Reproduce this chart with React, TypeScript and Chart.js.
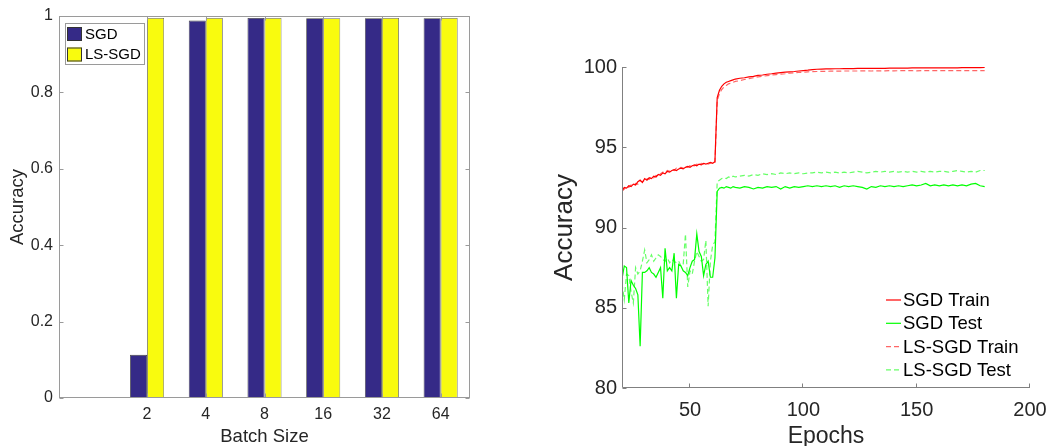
import React, { useEffect, useRef } from "react";
import { Chart, registerables } from "chart.js";
Chart.register(...registerables);

const FONT = "'Liberation Sans', Arial, Helvetica, sans-serif";
const TEXT = "#262626";

// ---- Left chart: final accuracy vs batch size ----
const batchLabels = ["", "2", "4", "8", "16", "32", "64"];
const sgdAcc = [null, 0.113, 0.988, 0.995, 0.994, 0.994, 0.994];
const lsSgdAcc = [null, 0.995, 0.995, 0.995, 0.994, 0.995, 0.995];
const barYTicks = [0, 0.2, 0.4, 0.6, 0.8, 1];

// ---- Right chart: accuracy vs epochs ----
const epochs = [
  20, 21, 22, 23, 24, 25, 26, 27, 28, 29,
  30, 31, 32, 33, 34, 35, 36, 37, 38, 39,
  40, 41, 42, 43, 44, 45, 46, 47, 48, 49,
  50, 51, 52, 53, 54, 55, 56, 57, 58, 59,
  60, 61, 62, 63, 64, 65, 66, 67, 68, 69,
  70, 72, 74, 76, 78, 80, 82, 84, 86, 88,
  90, 92, 94, 96, 98, 100, 102, 104, 106, 108,
  110, 112, 114, 116, 118, 120, 122, 124, 126, 128,
  130, 132, 134, 136, 138, 140, 142, 144, 146, 148,
  150, 152, 154, 156, 158, 160, 162, 164, 166, 168,
  170, 172, 174, 176, 178, 180,
];
const sgdTrain = [
  92.30, 92.50, 92.45, 92.60, 92.55, 92.70, 92.65, 92.85, 92.95, 92.80,
  93.05, 92.95, 93.10, 93.05, 93.20, 93.15, 93.30, 93.25, 93.40, 93.35,
  93.50, 93.45, 93.55, 93.60, 93.55, 93.65, 93.70, 93.65, 93.75, 93.80,
  93.75, 93.85, 93.90, 93.85, 93.95, 93.90, 94.00, 93.95, 94.00, 94.05,
  94.00, 94.10, 98.10, 98.55, 98.80, 98.95, 99.05, 99.10, 99.15, 99.20,
  99.25, 99.30, 99.33, 99.38, 99.42, 99.48, 99.50, 99.55, 99.58, 99.62,
  99.65, 99.68, 99.70, 99.72, 99.75, 99.78, 99.80, 99.84, 99.86, 99.87,
  99.88, 99.88, 99.89, 99.89, 99.90, 99.90, 99.90, 99.91, 99.91, 99.91,
  99.92, 99.92, 99.92, 99.92, 99.93, 99.93, 99.93, 99.93, 99.93, 99.94,
  99.94, 99.94, 99.94, 99.94, 99.95, 99.95, 99.95, 99.95, 99.95, 99.95,
  99.96, 99.96, 99.96, 99.96, 99.96, 99.97,
];
const sgdTest = [
  86.8, 87.6, 87.5, 85.3, 86.7, 86.4, 86.2, 85.8, 82.6, 87.2,
  87.2, 87.3, 87.5, 87.2, 87.1, 86.9, 87.2, 87.5, 85.6, 88.7,
  87.3, 87.5, 87.3, 88.4, 85.6, 87.7, 87.6, 87.3, 87.2, 87.0,
  87.5, 87.9, 88.0, 89.6, 88.5, 88.2, 87.0, 87.7, 87.9, 86.9,
  86.9, 88.1, 92.25, 92.45, 92.50, 92.45, 92.55, 92.50, 92.45, 92.55,
  92.50, 92.45, 92.55, 92.50, 92.40, 92.50, 92.45, 92.55, 92.50, 92.55,
  92.40, 92.55, 92.45, 92.55, 92.50, 92.55, 92.60, 92.55, 92.60, 92.55,
  92.60, 92.55, 92.60, 92.50, 92.60, 92.55, 92.60, 92.55, 92.50, 92.40,
  92.55, 92.50, 92.60, 92.55, 92.60, 92.55, 92.60, 92.55, 92.60, 92.65,
  92.60, 92.65, 92.75, 92.60, 92.65, 92.60, 92.65, 92.60, 92.65, 92.60,
  92.65, 92.60, 92.70, 92.75, 92.60, 92.55,
];
const lsTrain = [
  92.25, 92.40, 92.55, 92.50, 92.65, 92.60, 92.75, 92.70, 92.90, 92.85,
  92.95, 93.05, 93.00, 93.15, 93.10, 93.25, 93.20, 93.35, 93.45, 93.40,
  93.55, 93.50, 93.60, 93.55, 93.70, 93.65, 93.75, 93.70, 93.80, 93.75,
  93.85, 93.80, 93.85, 93.95, 93.90, 94.00, 93.95, 94.05, 93.95, 94.00,
  94.05, 94.05, 97.90, 98.35, 98.60, 98.75, 98.85, 98.95, 99.00, 99.05,
  99.10, 99.15, 99.22, 99.28, 99.33, 99.38, 99.42, 99.46, 99.50, 99.53,
  99.56, 99.58, 99.61, 99.64, 99.66, 99.68, 99.70, 99.71, 99.72, 99.73,
  99.73, 99.74, 99.74, 99.74, 99.75, 99.75, 99.75, 99.75, 99.76, 99.76,
  99.75, 99.76, 99.76, 99.76, 99.77, 99.76, 99.77, 99.77, 99.77, 99.77,
  99.76, 99.77, 99.77, 99.78, 99.77, 99.78, 99.78, 99.78, 99.77, 99.78,
  99.78, 99.78, 99.78, 99.78, 99.78, 99.78,
];
const lsTest = [
  86.5, 85.5, 87.1, 87.0, 86.0, 85.3, 87.5, 87.1, 87.3, 87.9,
  88.6, 87.8, 88.0, 88.3, 87.9, 88.1, 88.3, 88.2, 88.0, 87.9,
  88.1, 87.8, 88.0, 87.9, 87.8, 87.9, 87.6, 87.7, 89.6, 86.3,
  87.3, 87.1, 87.9, 88.5, 88.2, 87.9, 88.0, 89.2, 85.1, 87.9,
  88.9, 89.1, 92.85, 92.95, 93.05, 93.10, 93.05, 93.15, 93.10, 93.20,
  93.15, 93.20, 93.25, 93.20, 93.30, 93.25, 93.35, 93.30, 93.35, 93.30,
  93.40, 93.35, 93.40, 93.35, 93.40, 93.35, 93.40, 93.40, 93.45, 93.40,
  93.45, 93.40, 93.45, 93.40, 93.45, 93.40, 93.45, 93.50, 93.45, 93.40,
  93.45, 93.50, 93.45, 93.50, 93.45, 93.50, 93.45, 93.50, 93.45, 93.50,
  93.45, 93.50, 93.45, 93.50, 93.45, 93.50, 93.50, 93.45, 93.50, 93.55,
  93.50, 93.45, 93.50, 93.45, 93.55, 93.55,
];
const epochTicks = [50, 100, 150, 200];
const accTicks = [80, 85, 90, 95, 100];

const toPoints = (ys: number[]) => epochs.map((e, i) => ({ x: e, y: ys[i] }));

const noAutoPad = (s: any) => {
  s.paddingLeft = 0;
  s.paddingRight = 0;
  s.paddingTop = 0;
  s.paddingBottom = 0;
};

const leftFrame = {
  id: "leftFrame",
  afterDraw(chart: any) {
    const { ctx, chartArea: a, scales } = chart;
    const L = Math.round(a.left) + 0.5;
    const R = Math.round(a.right) - 0.5;
    const T = Math.round(a.top) + 0.5;
    const B = Math.round(a.bottom) - 0.5;
    ctx.save();
    ctx.strokeStyle = "#9a9a9a";
    ctx.lineWidth = 1;
    ctx.strokeRect(L, T, R - L, B - T);
    ctx.beginPath();
    barYTicks.forEach((v) => {
      const py = Math.round(scales.y.getPixelForValue(v)) + 0.5;
      ctx.moveTo(L, py); ctx.lineTo(L + 4, py);
      ctx.moveTo(R, py); ctx.lineTo(R - 4, py);
    });
    for (let i = 1; i < batchLabels.length; i++) {
      const px = Math.round(scales.x.getPixelForValue(i)) + 0.5;
      ctx.moveTo(px, B); ctx.lineTo(px, B - 4);
      ctx.moveTo(px, T); ctx.lineTo(px, T + 4);
    }
    ctx.stroke();
    // legend box inside the plot
    const lx = a.left + 6, ly = a.top + 7, lw = 79, lh = 41;
    ctx.fillStyle = "#ffffff";
    ctx.fillRect(lx, ly, lw, lh);
    ctx.strokeStyle = "#9a9a9a";
    ctx.strokeRect(Math.round(lx) + 0.5, Math.round(ly) + 0.5, lw, lh);
    ctx.font = `15px ${FONT}`;
    ctx.textBaseline = "middle";
    ctx.textAlign = "left";
    chart.data.datasets.forEach((ds: any, i: number) => {
      const cy = ly + 11 + i * 20.5;
      ctx.fillStyle = ds.backgroundColor;
      ctx.fillRect(lx + 2, cy - 7, 15, 14);
      ctx.strokeStyle = "#333";
      ctx.strokeRect(lx + 2.5, cy - 6.5, 14, 13);
      ctx.fillStyle = "#000";
      ctx.fillText(ds.label, lx + 20, cy + 0.5);
    });
    ctx.restore();
  },
};

const rightFrame = {
  id: "rightFrame",
  afterDraw(chart: any) {
    const { ctx, chartArea: a, scales } = chart;
    const L = Math.round(a.left) + 0.5;
    const B = Math.round(a.bottom) - 0.5;
    ctx.save();
    ctx.strokeStyle = "#808080";
    ctx.lineWidth = 1;
    ctx.beginPath();
    ctx.moveTo(L, Math.round(a.top));
    ctx.lineTo(L, B);
    ctx.lineTo(Math.round(a.right), B);
    accTicks.forEach((v) => {
      const py = Math.round(scales.y.getPixelForValue(v)) + 0.5;
      ctx.moveTo(L, py); ctx.lineTo(L + 4, py);
    });
    epochTicks.forEach((v) => {
      const px = Math.round(scales.x.getPixelForValue(v)) - 0.5;
      ctx.moveTo(px, B); ctx.lineTo(px, B - 4);
    });
    ctx.stroke();
    // legend (no box)
    const tx = a.right - 127;
    ctx.font = `18.5px ${FONT}`;
    ctx.textBaseline = "middle";
    ctx.textAlign = "left";
    chart.data.datasets.forEach((ds: any, i: number) => {
      const cy = a.bottom - 88 + i * 23.3;
      ctx.beginPath();
      ctx.strokeStyle = ds.borderColor;
      ctx.lineWidth = ds.borderWidth;
      ctx.setLineDash(ds.borderDash || []);
      ctx.moveTo(tx - 17, cy);
      ctx.lineTo(tx - 2, cy);
      ctx.stroke();
      ctx.setLineDash([]);
      ctx.fillStyle = "#000";
      ctx.fillText(ds.label, tx, cy + 1);
    });
    ctx.restore();
  },
};

function LeftChart() {
  const ref = useRef<HTMLCanvasElement>(null);
  useEffect(() => {
    const chart = new Chart(ref.current as HTMLCanvasElement, {
      type: "bar",
      data: {
        labels: batchLabels,
        datasets: [
          {
            label: "SGD",
            data: sgdAcc as any,
            backgroundColor: "#352a87",
            borderColor: "rgba(0,0,0,0.75)",
            borderWidth: 0.8,
            categoryPercentage: 0.58,
            barPercentage: 1,
          },
          {
            label: "LS-SGD",
            data: lsSgdAcc as any,
            backgroundColor: "#f9fb0e",
            borderColor: "rgba(0,0,0,0.6)",
            borderWidth: 0.8,
            categoryPercentage: 0.58,
            barPercentage: 1,
          },
        ],
      },
      options: {
        animation: false,
        responsive: false,
        events: [],
        layout: { padding: { left: 0, top: 16, right: 40, bottom: 0 } },
        plugins: { legend: { display: false }, tooltip: { enabled: false } },
        scales: {
          x: {
            grid: { display: false, drawTicks: false },
            border: { display: false },
            ticks: {
              color: TEXT,
              font: { family: FONT, size: 16 },
              padding: 7,
              maxRotation: 0,
              autoSkip: false,
            },
            title: {
              display: true,
              text: "Batch Size",
              color: TEXT,
              font: { family: FONT, size: 18.5, lineHeight: 1 },
              padding: 0,
            },
            afterFit: (s: any) => { s.height = 48; noAutoPad(s); },
          },
          y: {
            min: 0,
            max: 1,
            afterBuildTicks: (s: any) => { s.ticks = barYTicks.map((v) => ({ value: v })); },
            grid: { display: false, drawTicks: false },
            border: { display: false },
            ticks: {
              color: TEXT,
              font: { family: FONT, size: 16 },
              padding: 6,
              callback: (v: any) => String(v),
            },
            title: {
              display: true,
              text: "Accuracy",
              color: TEXT,
              font: { family: FONT, size: 18.5, lineHeight: 1 },
              padding: { top: 9, bottom: 0 },
            },
            afterFit: (s: any) => { s.width = 59; noAutoPad(s); },
          },
        },
      } as any,
      plugins: [leftFrame],
    });
    return () => chart.destroy();
  }, []);
  return <canvas ref={ref} width={510} height={446} style={{ position: "absolute", left: 0, top: 0, width: 510, height: 446 }} />;
}

function RightChart() {
  const ref = useRef<HTMLCanvasElement>(null);
  useEffect(() => {
    const chart = new Chart(ref.current as HTMLCanvasElement, {
      type: "line",
      data: {
        datasets: [
          { label: "SGD Train", data: toPoints(sgdTrain), borderColor: "#ff0000", borderWidth: 1.2, pointRadius: 0, fill: false },
          { label: "SGD Test", data: toPoints(sgdTest), borderColor: "#00ff00", borderWidth: 1.2, pointRadius: 0, fill: false },
          { label: "LS-SGD Train", data: toPoints(lsTrain), borderColor: "rgba(255,0,0,0.6)", borderWidth: 1.2, borderDash: [5, 3], pointRadius: 0, fill: false },
          { label: "LS-SGD Test", data: toPoints(lsTest), borderColor: "rgba(0,255,0,0.6)", borderWidth: 1.2, borderDash: [5, 3], pointRadius: 0, fill: false },
        ],
      },
      options: {
        animation: false,
        responsive: false,
        events: [],
        layout: { padding: { left: 0, top: 67, right: 19, bottom: 0 } },
        plugins: { legend: { display: false }, tooltip: { enabled: false } },
        scales: {
          x: {
            type: "linear",
            min: 20,
            max: 200,
            afterBuildTicks: (s: any) => { s.ticks = epochTicks.map((v) => ({ value: v })); },
            grid: { display: false, drawTicks: false },
            border: { display: false },
            ticks: {
              color: TEXT,
              font: { family: FONT, size: 20 },
              padding: 10,
              maxRotation: 0,
              autoSkip: false,
              callback: (v: any) => String(v),
            },
            title: {
              display: true,
              text: "Epochs",
              color: TEXT,
              font: { family: FONT, size: 23, lineHeight: 0.8 },
              padding: 0,
            },
            afterFit: (s: any) => { s.height = 58; noAutoPad(s); },
          },
          y: {
            min: 80,
            max: 100,
            afterBuildTicks: (s: any) => { s.ticks = accTicks.map((v) => ({ value: v })); },
            grid: { display: false, drawTicks: false },
            border: { display: false },
            ticks: {
              color: TEXT,
              font: { family: FONT, size: 20 },
              padding: 5,
              callback: (v: any) => String(v),
            },
            title: {
              display: true,
              text: "Accuracy",
              color: TEXT,
              font: { family: FONT, size: 26, lineHeight: 1 },
              padding: { top: 42, bottom: 0 },
            },
            afterFit: (s: any) => { s.width = 112; noAutoPad(s); },
          },
        },
      } as any,
      plugins: [rightFrame],
    });
    return () => chart.destroy();
  }, []);
  return <canvas ref={ref} width={539} height={446} style={{ position: "absolute", left: 510, top: 0, width: 539, height: 446 }} />;
}

export default function App() {
  return (
    <div style={{ position: "fixed", left: 0, top: 0, width: 1049, height: 446, background: "#fff", overflow: "hidden" }}>
      <LeftChart />
      <RightChart />
    </div>
  );
}
